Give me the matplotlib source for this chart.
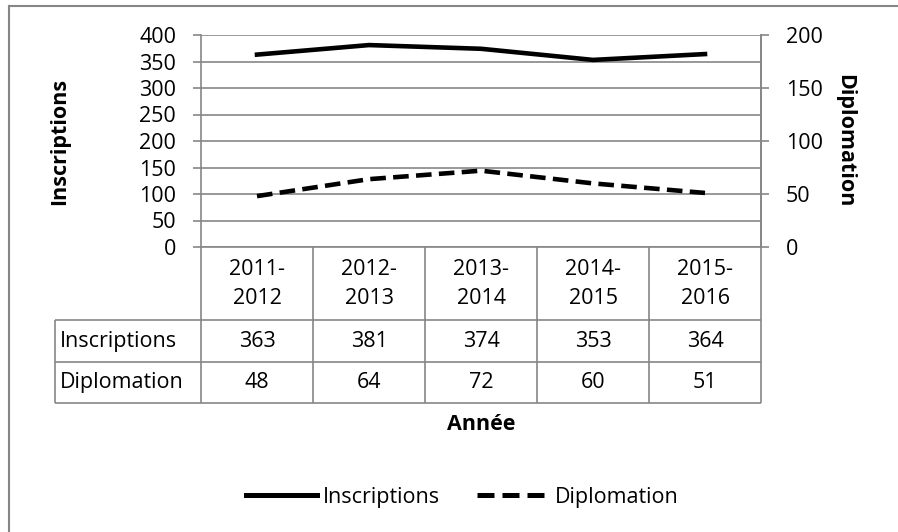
import numpy as np
import matplotlib
matplotlib.use("Agg")
import matplotlib.pyplot as plt
from matplotlib.lines import Line2D

plt.rcParams['font.family'] = ['Open Sans', 'DejaVu Sans']

years = ["2011-\n2012", "2012-\n2013", "2013-\n2014", "2014-\n2015", "2015-\n2016"]
inscriptions = [363, 381, 374, 353, 364]
diplomation = [48, 64, 72, 60, 51]
left_ticks = [0, 50, 100, 150, 200, 250, 300, 350, 400]
right_ticks = [0, 50, 100, 150, 200]

W, H = 898, 532
grey = "#868686"
fs = 15.5
dash = (0, (3.4, 1.6))


def frac(x0, y0, x1, y1):
    # pixel box -> figure fraction
    return [x0 / W, 1 - y1 / H, (x1 - x0) / W, (y1 - y0) / H]


fig = plt.figure(figsize=(W / 100, H / 100), dpi=100)

ax = fig.add_axes(frac(201, 35, 761, 247))
x = np.arange(len(years))
ax.plot(x, inscriptions, color="black", lw=3.3)
ax.set_xlim(-0.5, len(years) - 0.5)
ax.set_ylim(0, 400)
ax.set_yticks(left_ticks)
ax.set_xticks([])
ax.grid(axis="y", color=grey, lw=1.2)
ax.tick_params(axis="y", direction="out", length=6, width=1.2, color=grey, pad=12, labelsize=fs)
for s in ["left", "bottom", "right"]:
    ax.spines[s].set_color(grey)
    ax.spines[s].set_linewidth(1.2)
ax.spines["top"].set_visible(False)
ax.set_ylabel("Inscriptions", fontsize=fs, fontweight="bold")
ax.yaxis.set_label_coords((70 - 201) / 560, 0.5)

ax2 = ax.twinx()
ax2.plot(x, diplomation, color="black", lw=3.3, ls=dash)
ax2.set_ylim(0, 200)
ax2.set_yticks(right_ticks)
ax2.tick_params(axis="y", direction="out", length=6, width=1.2, color=grey, pad=12, labelsize=fs)
for s in ["left", "bottom", "top"]:
    ax2.spines[s].set_visible(False)
ax2.spines["right"].set_color(grey)
ax2.spines["right"].set_linewidth(1.2)
ax2.set_ylabel("Diplomation", fontsize=fs, fontweight="bold", rotation=-90)
ax2.yaxis.set_label_coords((855 - 201) / 560, 0.5)

# data table under the plot
unit = 560 / len(years)
xmin = -0.5 - (201 - 55) / unit
tab = fig.add_axes(frac(55, 247, 761, 403))
tab.set_xlim(xmin, len(years) - 0.5)
tab.set_ylim(403, 247)
tab.axis("off")
kw = dict(color=grey, lw=1.2, clip_on=False)
for b in np.arange(-0.5, len(years), 1):
    tab.vlines(b, 247, 403, **kw)
tab.vlines(xmin, 320, 403, **kw)
tab.hlines([320, 362, 403], xmin, len(years) - 0.5, **kw)
for i in range(len(years)):
    tab.text(x[i], 284, years[i], ha="center", va="center", fontsize=fs, linespacing=1.55)
    tab.text(x[i], 341, str(inscriptions[i]), ha="center", va="center", fontsize=fs)
    tab.text(x[i], 382, str(diplomation[i]), ha="center", va="center", fontsize=fs)
tab.text(xmin + 5 / unit, 341, "Inscriptions", ha="left", va="center", fontsize=fs)
tab.text(xmin + 5 / unit, 382, "Diplomation", ha="left", va="center", fontsize=fs)

fig.text(481 / W, 1 - 425 / H, "Année", ha="center", va="center", fontsize=fs, fontweight="bold")

handles = [Line2D([], [], color="black", lw=3.6),
           Line2D([], [], color="black", lw=3.6, ls=dash)]
fig.legend(handles, ["Inscriptions", "Diplomation"], loc="center",
           bbox_to_anchor=(462 / W, 1 - 497 / H), ncol=2, frameon=False,
           fontsize=fs, handlelength=3.3, handletextpad=0.3, columnspacing=1.7)

# chart frame (only top and left edges are inside the image)
fig.add_artist(Line2D([9 / W, 1], [1 - 6 / H, 1 - 6 / H], transform=fig.transFigure, color=grey, lw=1.5))
fig.add_artist(Line2D([9 / W, 9 / W], [0, 1 - 6 / H], transform=fig.transFigure, color=grey, lw=1.5))

fig.savefig("out.png", dpi=100)
